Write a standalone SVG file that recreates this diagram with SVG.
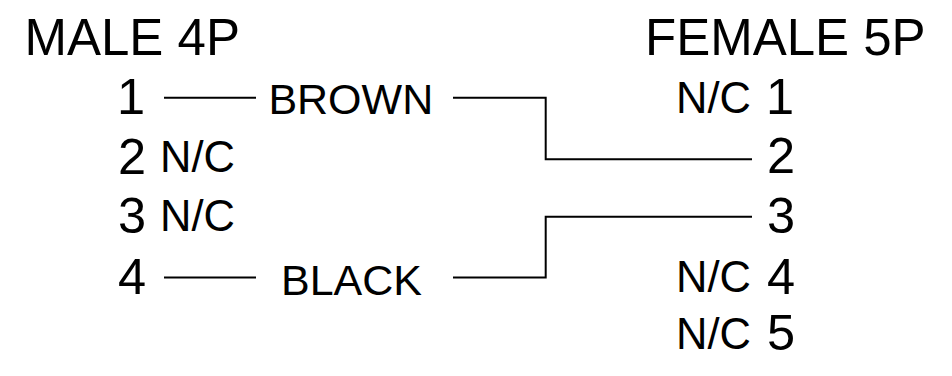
<svg xmlns="http://www.w3.org/2000/svg" width="952" height="376" viewBox="0 0 952 376">
<style>
text{font-family:"Liberation Sans",Arial,sans-serif;fill:#000}
.t{font-size:51px}
.d{font-size:50.5px}
.nc{font-size:43.5px}
.lb{font-size:43px}
.w{fill:none;stroke:#000;stroke-width:2}
</style>
<rect width="952" height="376" fill="#fff"/>
<g id="male">
<text class="t" x="24.5" y="55">MALE 4P</text>
<g id="m1"><text class="d" x="117" y="114">1</text></g>
<g id="m2"><text class="d" x="118" y="173.5">2</text><text class="nc" x="160" y="172">N/C</text></g>
<g id="m3"><text class="d" x="118" y="232.5">3</text><text class="nc" x="160" y="231">N/C</text></g>
<g id="m4"><text class="d" x="118" y="293.5">4</text></g>
</g>
<g id="female">
<text class="t" x="645" y="55">FEMALE 5P</text>
<g id="f1"><text class="nc" x="676" y="112.5">N/C</text><text class="d" x="766" y="114">1</text></g>
<g id="f2"><text class="d" x="767" y="172.5">2</text></g>
<g id="f3"><text class="d" x="767" y="232.5">3</text></g>
<g id="f4"><text class="nc" x="676" y="292">N/C</text><text class="d" x="767" y="293.5">4</text></g>
<g id="f5"><text class="nc" x="676" y="349">N/C</text><text class="d" x="767" y="350">5</text></g>
</g>
<g id="labels">
<text class="lb" x="268.4" y="113.5">BROWN</text>
<text class="lb" x="281" y="295">BLACK</text>
</g>
<g id="connectors">
<line class="w" x1="164" y1="97.7" x2="256" y2="97.7"/>
<polyline class="w" points="453,97.7 545.7,97.7 545.7,159.3 752,159.3"/>
<line class="w" x1="164" y1="277.5" x2="256" y2="277.5"/>
<polyline class="w" points="453,277.5 545.7,277.5 545.7,216.7 752,216.7"/>
</g>
</svg>
